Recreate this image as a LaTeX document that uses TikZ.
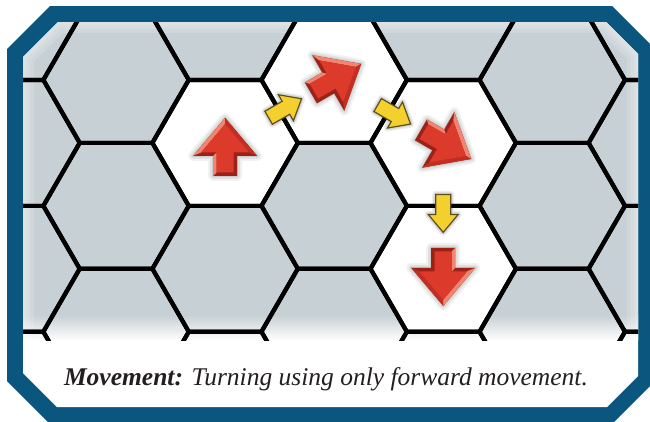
\documentclass[tikz,border=0pt]{standalone}
\usepackage{fontspec}
\setmainfont{Liberation Serif}
\usetikzlibrary{calc}

\definecolor{frameblue}{HTML}{0B567F}
\definecolor{boardgray}{HTML}{C7D0D4}
\definecolor{arrowred}{HTML}{DC3B2B}
\definecolor{arrowdark}{HTML}{9C2117}
\definecolor{arrowmid}{HTML}{C22F22}
\definecolor{arrowlight}{HTML}{F08571}
\definecolor{arrowyellow}{HTML}{F4D02E}
\definecolor{yellowedge}{HTML}{5C4E1A}
\definecolor{captionink}{HTML}{231F20}

% outlines used more than once
\newcommand{\innerframe}{(58,22) -- (606,22) -- (638,54) -- (638,376) -- (607,407) -- (57,407) -- (23,373) -- (23,57) -- cycle}
\newcommand{\redshape}{(0,-30) -- (32,8) -- (12,8) -- (12,28) -- (-12,28) -- (-12,8) -- (-32,8) -- cycle}
\newcommand{\yellowshape}{(0,-19) -- (15,-1) -- (7.5,-1) -- (7.5,19) -- (-7.5,19) -- (-7.5,-1) -- (-15,-1) -- cycle}

\begin{document}
\begin{tikzpicture}
    [x=1pt,y=-1pt,
    hexline/.style={draw=black,line width=4.2pt},
    hexlit/.style={fill=white},
    hex/.pic={
      \path[pic actions] (72.7,0) -- (36.35,62.95) -- (-36.35,62.95) -- (-72.7,0)
        -- (-36.35,-62.95) -- (36.35,-62.95) -- cycle;},
    redarrow/.pic={
      % soft shadow
      \foreach \w/\o in {10/0.05,6/0.07,2/0.09}
        \filldraw[black,fill opacity=\o,draw opacity=\o,line width=\w pt,line join=round] \redshape;
      \fill[arrowdark] \redshape;
      % bevels, then the face
      \fill[arrowlight] (0,-30) -- (-32,8) -- (-24,4.5) -- (0,-24) -- cycle;
      \fill[arrowmid] (0,-30) -- (32,8) -- (24,4.5) -- (0,-24) -- cycle;
      \fill[arrowlight] (-12,8) -- (-12,28) -- (-8.5,24.5) -- (-8.5,4.5) -- cycle;
      \fill[arrowred] (0,-24) -- (24,4.5) -- (8.5,4.5) -- (8.5,24.5) -- (-8.5,24.5) -- (-8.5,4.5) -- (-24,4.5) -- cycle;},
    yellowarrow/.pic={
      \foreach \w/\o in {7/0.07,4/0.1}
        \draw[black,opacity=\o,line width=\w pt,line join=round] \yellowshape;
      \filldraw[fill=arrowyellow,draw=yellowedge,line width=1.2pt] \yellowshape;}]

    \useasboundingbox (0,0) rectangle (650,421);
    \fill[white] (0,0) rectangle (650,421);

    % blue border
    \fill[frameblue] (50,6) -- (612,6) -- (652,46) -- (652,384) -- (613,423) -- (49,423) -- (7,381) -- (7,49) -- cycle;
    \fill[white] \innerframe;

    % hexes the counter passes through
    \coordinate (h1) at (225.1,142.9);
    \coordinate (h2) at (334.15,79.9);
    \coordinate (h3) at (443.2,142.9);
    \coordinate (h4) at (443.2,268.8);

    \begin{scope}
      \clip \innerframe;
      \clip (0,0) rectangle (650,340);
      \fill[boardgray] (0,0) rectangle (650,340);
      \shade[top color=boardgray,bottom color=white] (0,315) rectangle (650,341);
      \foreach \w in {22,14,7}
        \draw[white,opacity=0.15,line width=\w pt] \innerframe;
      \pic[hexlit] at (h1) {hex};
      \pic[hexlit] at (h2) {hex};
      \pic[hexlit] at (h3) {hex};
      \pic[hexlit] at (h4) {hex};
      \foreach \k in {0,...,6}
        \foreach \j in {0,...,3}
          \pic[hexline] at ({7+109.05*\k},{17-63*mod(\k,2)+125.9*\j}) {hex};
    \end{scope}

    % counter facings
    \pic at ($(h1)+(0,5)$) {redarrow};
    \pic[rotate=-60] at ($(h2)+(1,-1)$) {redarrow};
    \pic[rotate=-120] at ($(h3)+(2,1)$) {redarrow};
    \pic[rotate=180] at ($(h4)+(0,7)$) {redarrow};

    % moves
    \pic[rotate=-60] at ($(h1)!0.55!(h2)$) {yellowarrow};
    \pic[rotate=-120] at ($(h2)!0.55!(h3)$) {yellowarrow};
    \pic[rotate=180] at ($(h3)!0.56!(h4)$) {yellowarrow};

    \node (caption) [anchor=base,text=captionink,font=\fontsize{25.5}{30}\selectfont\itshape] at (326,385)
      {\textbf{Movement:} Turning using only forward movement.};

\end{tikzpicture}
\end{document}
